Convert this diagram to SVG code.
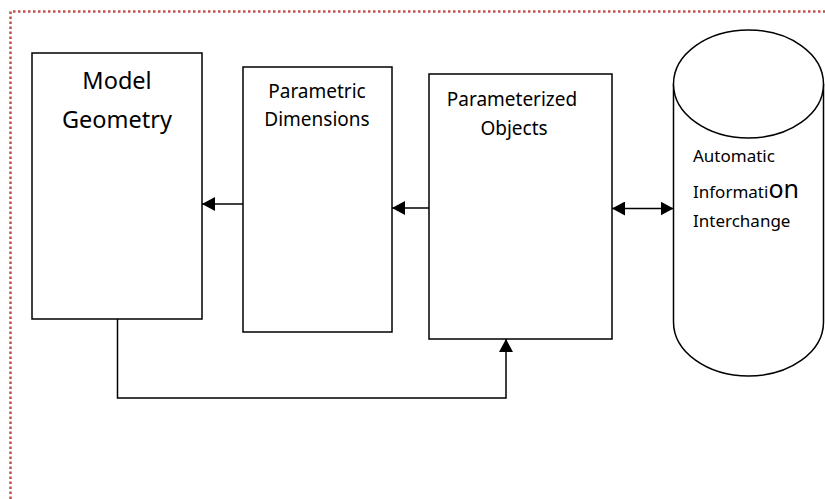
<svg xmlns="http://www.w3.org/2000/svg" width="825" height="499" viewBox="0 0 825 499">
<defs>
<style>
.box{fill:#fff;stroke:#000;stroke-width:1.5}
.ln{fill:none;stroke:#000;stroke-width:1.5}
.t{font-family:"Noto Sans","DejaVu Sans",sans-serif;fill:#000}
.border{fill:none;stroke:#c0504d;stroke-width:2.5;stroke-dasharray:2.5 2.5}
</style>
<marker id="ah" viewBox="0 0 13 14" refX="13" refY="7" markerWidth="13" markerHeight="14" markerUnits="userSpaceOnUse" orient="auto-start-reverse">
<path d="M0,0 L13,7 L0,14 Z" fill="#000"/>
</marker>
</defs>
<rect width="825" height="499" fill="#fff"/>
<path class="border" d="M10.5,499 L10.5,11.5 L825,11.5"/>
<g id="model-geometry">
<rect class="box" x="32" y="53" width="170" height="266"/>
<text class="t" x="117" y="89" font-size="23.5" text-anchor="middle">Model</text>
<text class="t" x="117" y="127.5" font-size="23.5" text-anchor="middle">Geometry</text>
</g>
<g id="parametric-dimensions">
<rect class="box" x="243" y="67" width="149" height="265"/>
<text class="t" x="317" y="97.5" font-size="19" text-anchor="middle">Parametric</text>
<text class="t" x="317" y="126" font-size="19" text-anchor="middle">Dimensions</text>
</g>
<g id="parameterized-objects">
<rect class="box" x="429" y="74" width="183" height="265"/>
<text class="t" x="512" y="106" font-size="19" text-anchor="middle">Parameterized</text>
<text class="t" x="514" y="135" font-size="19" text-anchor="middle">Objects</text>
</g>
<g id="automatic-information-interchange">
<path class="box" d="M673.5,84 L673.5,322 A75,54 0 0 0 823.5,322 L823.5,84"/>
<ellipse class="box" cx="748.5" cy="84" rx="75" ry="54"/>
<text class="t" x="693" y="161.5" font-size="17">Automatic</text>
<text class="t" x="693" y="198" font-size="17">Informati<tspan font-size="25">on</tspan></text>
<text class="t" x="693" y="227" font-size="17">Interchange</text>
</g>
<g id="connectors">
<line class="ln" x1="243" y1="204" x2="202" y2="204" marker-end="url(#ah)"/>
<line class="ln" x1="429" y1="208" x2="392" y2="208" marker-end="url(#ah)"/>
<line class="ln" x1="612" y1="208.5" x2="673.5" y2="208.5" marker-start="url(#ah)" marker-end="url(#ah)"/>
<path class="ln" d="M117.5,319 L117.5,398 L506,398 L506,339" marker-end="url(#ah)"/>
</g>
</svg>
